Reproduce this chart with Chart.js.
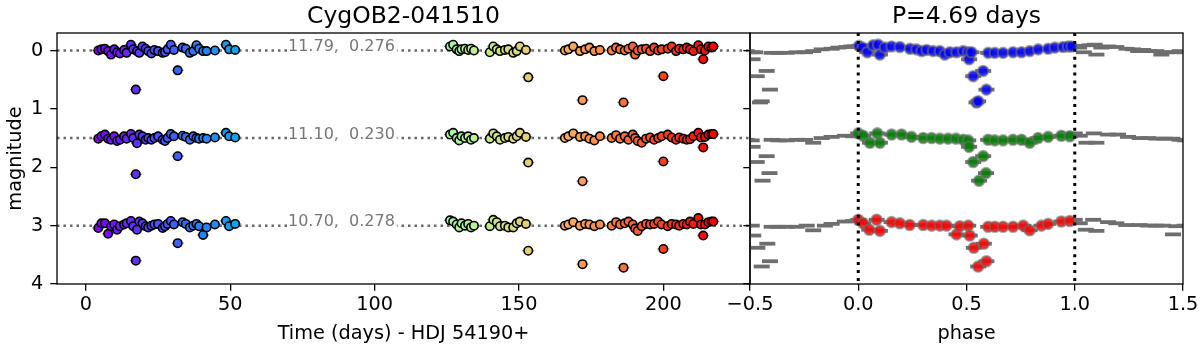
<!DOCTYPE html>
<html>
<head>
<meta charset="utf-8">
<script src="https://cdn.jsdelivr.net/npm/chart.js@4.4.1/dist/chart.umd.min.js"></script>
<style>
  body { margin: 0; background: #fff; overflow: hidden; }
  #wrap { position: relative; width: 1200px; height: 346px; overflow: hidden; background: #fff; }
  #timeChart { position: absolute; left: 0; top: 0; }
  #phaseChart { position: absolute; left: 700px; top: 0; }
</style>
</head>
<body>
<div id="wrap">
  <canvas id="timeChart" width="760" height="346"></canvas>
  <canvas id="phaseChart" width="510" height="346"></canvas>
</div>
<script>
// --- light curve against time (days after HJD 54190) ---
const times = [
  4.3, 5.4, 6.6, 7.7, 8.7, 9.8, 10.8, 11.8, 13.2, 14.1, 15.6, 16.4, 17.3, 17.7, 18.5, 19.6, 20.7, 21.6, 22.7, 23.7,
  25.0, 26.6, 27.4, 28.3, 29.4, 30.5, 31.8, 33.5, 34.6, 36.0, 37.2, 38.3, 39.2, 40.6, 41.8, 44.7, 48.5, 49.6, 51.7,
  126.1, 127.2, 128.4, 129.3, 130.1, 131.3, 132.4, 133.4, 134.4,
  139.9, 141.1, 142.3, 143.4, 145.1, 146.3, 148.0, 149.2, 150.3, 152.4, 153.2,
  165.9, 167.1, 168.8, 171.1, 172.0, 172.9, 174.4, 176.1, 178.0,
  182.1, 183.6, 185.0, 186.2, 186.6, 187.9, 189.4, 190.2, 191.1, 192.5, 194.0, 195.4, 196.8, 198.2, 199.4, 200.0,
  201.5, 202.9, 204.4, 205.5, 206.9, 208.1, 209.2, 210.4, 212.1, 213.0, 213.8, 214.4, 215.6, 216.7, 217.3
];
// magnitude relative to the band level
const dmag1 = [
  0.00, -0.02, -0.03, 0.01, 0.07, -0.02, 0.03, 0.05, -0.01, 0.04, -0.10, -0.02, 0.67, 0.01, 0.04, -0.07, -0.03, 0.01, 0.05, -0.01,
  0.01, 0.04, 0.03, -0.02, -0.10, -0.01, 0.34, -0.05, -0.03, 0.04, 0.01, -0.09, -0.03, 0.01, 0.01, 0.00, -0.10, -0.02, -0.01,
  -0.07, -0.10, -0.02, 0.01, -0.02, -0.03, -0.01, -0.03, 0.00,
  0.03, -0.07, -0.02, 0.01, -0.01, -0.02, 0.04, 0.01, -0.07, -0.01, 0.46,
  0.00, -0.02, -0.07, 0.01, 0.85, -0.02, -0.05, 0.01, -0.01,
  0.00, -0.05, -0.02, 0.89, 0.00, -0.03, -0.07, 0.07, 0.00, -0.02, -0.03, 0.01, -0.05, 0.00, -0.02, 0.44,
  -0.03, -0.07, 0.01, -0.03, -0.02, -0.05, -0.02, 0.01, -0.09, -0.02, 0.15, 0.00, -0.07, -0.05, -0.07
];
const dmag2 = [
  0.01, -0.03, -0.06, 0.01, 0.03, -0.03, 0.05, 0.03, -0.03, 0.01, -0.07, 0.00, 0.62, 0.09, -0.06, -0.03, 0.03, 0.00, 0.03, 0.00,
  -0.03, 0.03, 0.05, 0.00, -0.07, -0.03, 0.31, -0.04, -0.02, 0.03, -0.03, 0.00, 0.01, 0.00, 0.01, -0.01, -0.09, -0.03, -0.01,
  -0.06, -0.09, 0.00, 0.04, -0.03, 0.00, -0.03, 0.03, 0.00,
  0.01, -0.08, -0.03, 0.03, 0.00, -0.02, 0.01, -0.03, -0.09, -0.02, 0.42,
  0.00, -0.03, -0.08, -0.02, 0.74, -0.03, 0.01, 0.04, -0.03,
  0.00, -0.05, 0.01, null, -0.03, 0.03, -0.06, 0.00, 0.05, 0.08, 0.01, -0.01, 0.03, 0.00, -0.03, 0.40,
  -0.06, -0.01, 0.03, -0.01, 0.01, 0.03, 0.02, -0.03, -0.09, -0.01, 0.16, -0.02, -0.06, -0.07, -0.07
];
const dmag3 = [
  0.04, -0.04, -0.04, 0.14, 0.01, -0.02, 0.07, 0.01, -0.02, -0.04, -0.08, 0.01, 0.60, 0.07, -0.07, -0.04, 0.01, 0.03, 0.00, -0.02,
  -0.03, 0.04, 0.01, -0.03, -0.08, -0.02, 0.30, -0.06, -0.03, 0.03, 0.00, -0.03, 0.01, 0.16, 0.03, -0.02, -0.08, 0.01, -0.03,
  -0.09, -0.07, -0.02, 0.03, -0.04, 0.00, -0.03, 0.03, 0.00,
  0.01, -0.10, -0.06, 0.01, 0.00, 0.03, 0.03, -0.04, -0.07, -0.03, 0.43,
  0.00, -0.02, -0.06, 0.00, 0.66, -0.03, -0.02, 0.01, -0.02,
  0.00, -0.06, -0.02, 0.72, -0.04, -0.07, -0.02, 0.05, 0.09, 0.01, -0.03, -0.02, -0.03, -0.07, -0.02, 0.40,
  0.01, -0.03, -0.02, 0.00, -0.03, -0.02, -0.07, -0.03, -0.13, -0.02, 0.17, -0.02, -0.06, -0.07, -0.07
];
const bandOffsets = [0, 1.5, 3];
const bandLabels = ['11.79,  0.276', '11.10,  0.230', '10.70,  0.278'];
const labelDay = 70;
const timeRange = [-10, 230];
const timeTicks = [0, 50, 100, 150, 200];
const magRange = [-0.3, 4];
const magTicks = [0, 1, 2, 3, 4];

// --- folded on P = 4.69 d ---
const phase1 = [0.003, 0.020, 0.042, 0.069, 0.092, 0.100, 0.123, 0.154, 0.192, 0.239, 0.269, 0.293, 0.316, 0.346, 0.377,
  0.400, 0.423, 0.454, 0.485, 0.508, 0.512, 0.523, 0.531, 0.546, 0.554, 0.577, 0.592, 0.600, 0.631, 0.669,
  0.715, 0.754, 0.792, 0.831, 0.877, 0.908, 0.946, 0.969, 0.985];
const fold1 = [-0.08, -0.05, 0.03, -0.09, -0.10, 0.07, -0.05, -0.07, -0.06, -0.03, -0.02, 0.01, -0.01, 0.01, 0.01,
  0.07, 0.03, 0.03, 0.01, 0.03, 0.15, 0.03, 0.44, 0.89, 0.87, 0.35, 0.67, 0.04, 0.04, 0.04,
  0.03, 0.03, 0.01, -0.02, -0.03, -0.05, -0.06, -0.07, -0.07];
const phase2 = [0.000, 0.023, 0.054, 0.088, 0.100, 0.154, 0.200, 0.246, 0.300, 0.339, 0.377, 0.415, 0.451, 0.485, 0.508,
  0.512, 0.531, 0.558, 0.577, 0.590, 0.600, 0.631, 0.669, 0.715, 0.754, 0.792, 0.831, 0.877, 0.938, 0.977];
const fold2 = [-0.08, -0.04, 0.08, -0.08, 0.08, -0.06, -0.06, -0.02, 0.00, 0.00, 0.01, 0.01, 0.01, 0.03, 0.04,
  0.15, 0.41, 0.73, 0.31, 0.60, 0.03, 0.04, 0.04, 0.03, 0.03, 0.08, 0.00, -0.02, -0.04, -0.03];
const phase3 = [0.000, 0.023, 0.051, 0.085, 0.100, 0.154, 0.192, 0.238, 0.300, 0.339, 0.377, 0.408, 0.454, 0.469, 0.508,
  0.515, 0.534, 0.554, 0.580, 0.592, 0.600, 0.631, 0.669, 0.715, 0.762, 0.792, 0.846, 0.877, 0.938, 0.977];
const fold3 = [-0.10, -0.04, 0.07, -0.10, 0.09, -0.06, -0.04, -0.01, -0.01, 0.00, 0.00, 0.00, 0.15, 0.01, 0.00,
  0.17, 0.38, 0.70, 0.31, 0.61, 0.02, 0.02, 0.02, 0.02, 0.00, 0.08, 0.00, -0.03, -0.07, -0.08];
const phaseRange = [-0.5, 1.5];
const phaseTicks = [-0.5, 0, 0.5, 1, 1.5];
const phaseMarks = [0, 1];
const foldColors = ['rgba(0,0,255,0.85)', 'rgba(0,128,0,0.85)', 'rgba(255,0,0,0.85)'];

const FONT = 'DejaVu Sans';
Chart.defaults.font.family = FONT;
Chart.defaults.color = '#000';

// matplotlib 'rainbow' colormap
function rainbow(f) {
  const r = Math.min(1, Math.abs(2 * f - 0.5));
  const g = Math.sin(Math.PI * f);
  const b = Math.cos(Math.PI * f / 2);
  return 'rgb(' + Math.round(r * 255) + ',' + Math.round(g * 255) + ',' + Math.round(b * 255) + ')';
}

function axisX(range, ticks, label, fmt) {
  return {
    type: 'linear', min: range[0], max: range[1],
    afterBuildTicks: s => { s.ticks = ticks.map(v => ({ value: v })); },
    afterFit: s => { s.height = 62; },
    grid: { drawOnChartArea: false, drawTicks: true, tickLength: 6.7, color: '#000', lineWidth: 1.3 },
    border: { display: false },
    ticks: { color: '#000', font: { size: 19.3 }, padding: 3, maxRotation: 0, autoSkip: false, callback: fmt },
    title: { display: true, text: label, color: '#000', font: { size: 19.3, lineHeight: 1 }, padding: { top: 0, bottom: 2.5 } }
  };
}

function axisY(width, showLabels, label) {
  return {
    type: 'linear', min: magRange[0], max: magRange[1], reverse: true,
    afterBuildTicks: s => { s.ticks = magTicks.map(v => ({ value: v })); },
    afterFit: s => { s.width = width; },
    grid: { drawOnChartArea: false, drawTicks: true, tickLength: 6.7, color: '#000', lineWidth: 1.3 },
    border: { display: false },
    ticks: { display: showLabels, color: '#000', font: { size: 19.3 }, padding: 7, callback: v => String(v) },
    title: { display: !!label, text: label || '', color: '#000', font: { size: 19.3, lineHeight: 1 }, padding: { top: 6, bottom: 0 } }
  };
}

// box around the plot area and the panel title
const framePlugin = {
  id: 'frame',
  afterDraw(chart, args, opts) {
    const { ctx, chartArea: a } = chart;
    ctx.save();
    ctx.strokeStyle = '#000';
    ctx.lineWidth = 1.3;
    ctx.strokeRect(a.left, a.top, a.right - a.left, a.bottom - a.top);
    ctx.fillStyle = '#000';
    ctx.font = '23.5px "' + FONT + '"';
    ctx.textAlign = 'center';
    ctx.textBaseline = 'alphabetic';
    ctx.fillText(opts.text, (a.left + a.right) / 2, 23);
    ctx.restore();
  }
};

// mean magnitude / amplitude written on each band
const bandTextPlugin = {
  id: 'bandText',
  afterDatasetsDraw(chart) {
    const { ctx, scales: { x, y } } = chart;
    ctx.save();
    ctx.font = '16px "' + FONT + '"';
    ctx.textBaseline = 'alphabetic';
    bandOffsets.forEach((off, i) => {
      const px = x.getPixelForValue(labelDay);
      const py = y.getPixelForValue(off);
      const w = ctx.measureText(bandLabels[i]).width;
      ctx.fillStyle = '#fff';
      ctx.fillRect(px - 1, py - 14, w + 3, 17);
      ctx.fillStyle = '#777';
      ctx.fillText(bandLabels[i], px, py + 0.8);
    });
    ctx.restore();
  }
};

// left panel
const bandDmags = [dmag1, dmag2, dmag3];
const tMin = Math.min(...times), tMax = Math.max(...times);
const timeDatasets = [];
bandOffsets.forEach((off, i) => {
  timeDatasets.push({
    data: [{ x: timeRange[0], y: off }, { x: timeRange[1], y: off }],
    showLine: true, borderColor: '#696969', borderWidth: 2.5, borderDash: [2.5, 4],
    pointRadius: 0, order: 10
  });
  const pts = [];
  times.forEach((t, k) => {
    if (bandDmags[i][k] !== null) pts.push({ x: t, y: off + bandDmags[i][k] });
  });
  timeDatasets.push({
    data: pts, pointStyle: 'line', pointRadius: 6, pointBorderWidth: 1.3,
    pointBorderColor: 'rgba(128,128,128,0.9)', order: 5
  });
  timeDatasets.push({
    data: pts, pointStyle: 'circle', pointRadius: 4.2, pointBorderWidth: 1.6, pointBorderColor: '#000',
    pointBackgroundColor: pts.map(p => rainbow((p.x - tMin) / (tMax - tMin))), order: 1
  });
});

new Chart(document.getElementById('timeChart'), {
  type: 'scatter',
  data: { datasets: timeDatasets },
  options: {
    responsive: false, animation: false, devicePixelRatio: 1,
    layout: { padding: { top: 33, right: 10, bottom: 0, left: 0 } },
    plugins: { legend: { display: false }, tooltip: { enabled: false }, frame: { text: 'CygOB2-041510' } },
    scales: {
      x: axisX(timeRange, timeTicks, 'Time (days) - HDJ 54190+', v => String(v)),
      y: axisY(57, true, 'magnitude')
    }
  },
  plugins: [framePlugin, bandTextPlugin]
});

// right panel
const phases = [phase1, phase2, phase3];
const folds = [fold1, fold2, fold3];
const phaseDatasets = [];
phaseMarks.forEach(m => {
  phaseDatasets.push({
    data: [{ x: m, y: magRange[0] }, { x: m, y: magRange[1] }],
    showLine: true, borderColor: '#000', borderWidth: 3, borderDash: [3, 4.9],
    pointRadius: 0, order: 0
  });
});
bandOffsets.forEach((off, i) => {
  const pts = phases[i].map((p, k) => ({ x: p, y: off + folds[i][k] }));
  // same points repeated one cycle earlier and later, as in the original plot
  const bars = [];
  [-1, 0, 1].forEach(c => pts.forEach(p => bars.push({ x: p.x + c, y: p.y })));
  phaseDatasets.push({
    data: bars, pointStyle: 'line', pointRadius: 8, pointBorderWidth: 3.8,
    pointBorderColor: '#6e6e6e', clip: 0, order: 5
  });
  phaseDatasets.push({
    data: pts, pointStyle: 'circle', pointRadius: 5.2, pointBorderWidth: 2.2,
    pointBorderColor: 'rgba(110,110,110,0.6)', pointBackgroundColor: foldColors[i], order: 1
  });
});

new Chart(document.getElementById('phaseChart'), {
  type: 'scatter',
  data: { datasets: phaseDatasets },
  options: {
    responsive: false, animation: false, devicePixelRatio: 1,
    layout: { padding: { top: 33, right: 27, bottom: 0, left: 0 } },
    plugins: { legend: { display: false }, tooltip: { enabled: false }, frame: { text: 'P=4.69 days' } },
    scales: {
      x: axisX(phaseRange, phaseTicks, 'phase', v => v.toFixed(1).replace('-', '\u2212')),
      y: axisY(50, false, '')
    }
  },
  plugins: [framePlugin]
});
</script>
</body>
</html>
